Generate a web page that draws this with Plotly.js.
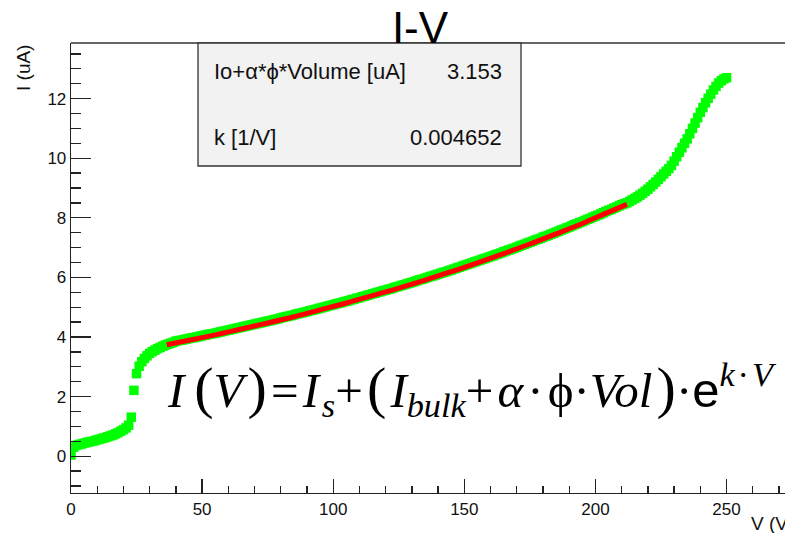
<!DOCTYPE html>
<html><head><meta charset="utf-8">
<script src="https://cdn.plot.ly/plotly-3.0.1.min.js"></script>
<style>html,body{margin:0;padding:0;background:#fff}#chart{width:785px;height:533px}</style>
</head><body><div id="chart"></div>
<script>
// ---- data ----
const voltage = [
  0,1,2,3,4,5,6,7,8,9,10,11,12,13,14,15,16,17,18,19,
  20,21,22,23,24,25,26,27,28,29,30,31,32,33,34,35,36,37,38,39,
  40,41,42,43,44,45,46,47,48,49,50,51,52,53,54,55,56,57,58,59,
  60,61,62,63,64,65,66,67,68,69,70,71,72,73,74,75,76,77,78,79,
  80,81,82,83,84,85,86,87,88,89,90,91,92,93,94,95,96,97,98,99,
  100,101,102,103,104,105,106,107,108,109,110,111,112,113,114,115,116,117,118,119,
  120,121,122,123,124,125,126,127,128,129,130,131,132,133,134,135,136,137,138,139,
  140,141,142,143,144,145,146,147,148,149,150,151,152,153,154,155,156,157,158,159,
  160,161,162,163,164,165,166,167,168,169,170,171,172,173,174,175,176,177,178,179,
  180,181,182,183,184,185,186,187,188,189,190,191,192,193,194,195,196,197,198,199,
  200,201,202,203,204,205,206,207,208,209,210,211,212,213,214,215,216,217,218,219,
  220,221,222,223,224,225,226,227,228,229,230,231,232,233,234,235,236,237,238,239,
  240,241,242,243,244,245,246,247,248,249,250
];
const current = [
  0.04,0.30,0.36,0.39,0.41,0.44,0.46,0.48,0.50,0.52,0.55,0.57,0.60,0.62,0.65,0.68,0.71,0.75,0.79,0.84,
  0.89,0.95,1.04,1.31,2.21,2.77,3.02,3.17,3.28,3.37,3.45,3.51,3.56,3.61,3.65,3.69,3.73,3.76,3.79,3.82,
  3.86,3.88,3.89,3.91,3.93,3.95,3.97,3.98,4.00,4.02,4.04,4.06,4.08,4.10,4.11,4.13,4.15,4.17,4.19,4.21,
  4.23,4.25,4.27,4.29,4.31,4.33,4.35,4.37,4.39,4.41,4.43,4.45,4.47,4.49,4.51,4.53,4.55,4.57,4.59,4.61,
  4.64,4.66,4.68,4.70,4.72,4.74,4.77,4.79,4.81,4.83,4.85,4.88,4.90,4.92,4.94,4.97,4.99,5.01,5.04,5.06,
  5.08,5.11,5.13,5.15,5.18,5.20,5.22,5.25,5.27,5.30,5.32,5.35,5.37,5.40,5.42,5.45,5.47,5.50,5.52,5.55,
  5.57,5.60,5.62,5.65,5.68,5.70,5.73,5.75,5.78,5.81,5.83,5.86,5.89,5.92,5.94,5.97,6.00,6.03,6.05,6.08,
  6.11,6.14,6.17,6.19,6.22,6.25,6.28,6.31,6.34,6.37,6.40,6.43,6.46,6.49,6.52,6.55,6.58,6.61,6.64,6.67,
  6.70,6.73,6.76,6.79,6.82,6.86,6.89,6.92,6.95,6.98,7.01,7.05,7.08,7.11,7.15,7.18,7.21,7.25,7.28,7.31,
  7.35,7.38,7.41,7.45,7.48,7.52,7.55,7.59,7.62,7.66,7.69,7.73,7.77,7.80,7.84,7.87,7.91,7.95,7.98,8.02,
  8.06,8.09,8.13,8.17,8.21,8.25,8.28,8.32,8.36,8.40,8.44,8.47,8.50,8.55,8.60,8.65,8.70,8.76,8.82,8.89,
  8.96,9.04,9.12,9.20,9.29,9.38,9.47,9.56,9.65,9.76,9.90,10.05,10.20,10.35,10.50,10.65,10.82,11.00,11.18,11.36,
  11.54,11.70,11.86,12.01,12.15,12.29,12.41,12.52,12.60,12.66,12.70
];
const fitVoltage = [36.5,45,55,65,75,85,95,105,115,125,135,145,155,165,175,185,195,205,212];
const fitCurrent = [3.74,3.89,4.07,4.27,4.47,4.68,4.91,5.14,5.39,5.64,5.91,6.19,6.49,6.80,7.12,7.46,7.81,8.19,8.45];
const statLabels = ["Io+α*ϕ*Volume [uA]", "k [1/V]"];
const statValues = ["3.153", "0.004652"];
const xTickValues = [0,50,100,150,200,250];
const yTickValues = [0,2,4,6,8,10,12];
const chartTitle = "I-V";
const xTitle = "V (V)";
const yTitle = "I (uA)";

const TH = "\u2009", HA = "\u200A";
const P = c => "<span style='font-size:58px'>" + c + "</span>";
const E = "<span style='font-family:Liberation Sans, Arial, sans-serif;font-size:49px'>e</span>";
const formula =
  "<i>I</i>" + TH + P("(") + "<i>V</i>" + HA + P(")") + HA + "=" + HA + "<i>I</i><sub>" + HA + "<i>s</i></sub>" +
  "+" + HA + P("(") + HA + "<i>I</i><sub><i>bulk</i></sub>" + "+" + HA + "<i>α</i>" + HA + "·" + HA + "ϕ" + "·" +
  "<i>Vol</i>" + HA + P(")") + "·" + E + "<sup>" + "<i>k</i>" + HA + "·" + HA + "<i>V</i></sup>";

// ---- layout geometry ----
const W = 785, H = 533, L = 71, R = 0, T = 43, B = 40;
const pw = W - L - R, ph = H - T - B;
const px = x => (x - L) / pw;
const py = y => (H - B - y) / ph;
const SANS = "Liberation Sans, Arial, Helvetica, sans-serif";
const SERIF = "Liberation Serif, Times New Roman, serif";

const traces = [
  {x: voltage, y: current, type: 'scatter', mode: 'markers',
   marker: {symbol: 'square', size: 9.5, color: '#00ff00', line: {width: 0}},
   hoverinfo: 'skip', showlegend: false},
  {x: fitVoltage, y: fitCurrent, type: 'scatter', mode: 'lines',
   line: {color: '#ff0000', width: 5, shape: 'spline'},
   hoverinfo: 'skip', showlegend: false}
];

const axisCommon = {
  showline: true, linecolor: '#222', linewidth: 1.3,
  ticks: 'inside', tickcolor: '#222', tickwidth: 1.3,
  showgrid: false, zeroline: false,
  tickfont: {family: SANS, size: 17, color: '#111'}
};

const layout = {
  width: W, height: H,
  margin: {l: L, r: R, t: T, b: B, pad: 0},
  paper_bgcolor: '#fff', plot_bgcolor: '#fff',
  showlegend: false,
  title: {text: chartTitle, font: {family: SANS, size: 44, color: '#000'},
          x: px(420), xref: 'paper', xanchor: 'center',
          y: 1 - 28 / H, yref: 'container', yanchor: 'middle'},
  xaxis: Object.assign({}, axisCommon, {
    range: [0, 272.3], tickvals: xTickValues, ticklen: 14, mirror: false,
    minor: {dtick: 10, tick0: 0, ticks: 'inside', ticklen: 7, tickcolor: '#222', tickwidth: 1.3, showgrid: false}
  }),
  yaxis: Object.assign({}, axisCommon, {
    range: [-1.235, 13.866], tickvals: yTickValues, ticklen: 20,
    minor: {dtick: 0.5, tick0: 0, ticks: 'inside', ticklen: 10, tickcolor: '#222', tickwidth: 1.3, showgrid: false}
  }),
  shapes: [
    {type: 'line', xref: 'paper', yref: 'paper', x0: 0, x1: 1, y0: 1, y1: 1,
     line: {color: '#333', width: 1.3}, layer: 'above'},
    {type: 'rect', xref: 'paper', yref: 'paper', x0: px(198), x1: px(521), y0: py(166), y1: py(43),
     fillcolor: '#f2f2f2', line: {color: '#333', width: 1.3}, layer: 'above'}
  ],
  annotations: [
    {text: statLabels[0], xref: 'paper', yref: 'paper', x: px(212), y: py(72), xanchor: 'left', yanchor: 'middle',
     showarrow: false, font: {family: SANS, size: 22, color: '#111'}},
    {text: statValues[0], xref: 'paper', yref: 'paper', x: px(504), y: py(72), xanchor: 'right', yanchor: 'middle',
     showarrow: false, font: {family: SANS, size: 22, color: '#111'}},
    {text: statLabels[1], xref: 'paper', yref: 'paper', x: px(212), y: py(137), xanchor: 'left', yanchor: 'middle',
     showarrow: false, font: {family: SANS, size: 22, color: '#111'}},
    {text: statValues[1], xref: 'paper', yref: 'paper', x: px(504), y: py(137), xanchor: 'right', yanchor: 'middle',
     showarrow: false, font: {family: SANS, size: 22, color: '#111'}},
    {text: yTitle, xref: 'paper', yref: 'paper', x: px(23), y: py(68), xanchor: 'center', yanchor: 'middle',
     textangle: -90, showarrow: false, font: {family: SANS, size: 19, color: '#111'}},
    {text: xTitle, xref: 'paper', yref: 'paper', x: px(749), y: py(523), xanchor: 'left', yanchor: 'middle',
     showarrow: false, font: {family: SANS, size: 19, color: '#111'}},
    {text: formula, xref: 'paper', yref: 'paper', x: px(165), y: py(389), xanchor: 'left', yanchor: 'middle',
     showarrow: false, font: {family: SERIF, size: 49, color: '#000'}}
  ]
};

Plotly.newPlot('chart', traces, layout, {staticPlot: true, displayModeBar: false});
</script>
</body></html>
